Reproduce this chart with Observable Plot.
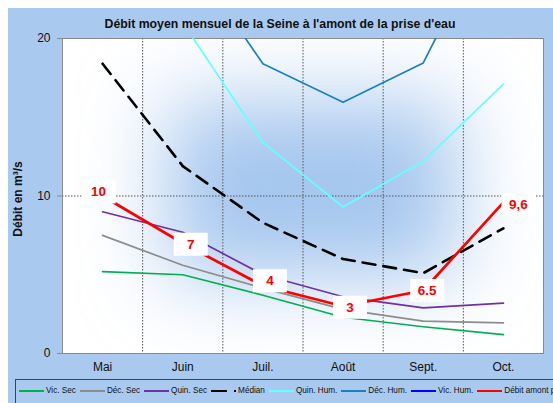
<!DOCTYPE html>
<html><head><meta charset="utf-8">
<script src="https://cdn.jsdelivr.net/npm/d3@7"></script>
<script src="https://cdn.jsdelivr.net/npm/@observablehq/plot@0.6"></script>
<style>
body{margin:0;background:#fff;}
#wrap{position:relative;width:553px;height:403px;background:#fff;overflow:hidden;font-family:"Liberation Sans",Arial,sans-serif;}
#bg{position:absolute;left:8px;top:8px;right:0;bottom:0;background:#a9c9ef;}
#title{position:absolute;left:0;width:560px;top:17px;text-align:center;font-weight:bold;font-size:12.3px;color:#111;line-height:14px;}
#ylab{position:absolute;left:18px;top:199px;transform:translate(-50%,-50%) rotate(-90deg);font-weight:bold;font-size:12px;white-space:nowrap;color:#111;}
#chart{position:absolute;left:0;top:0;}
#legend{position:absolute;left:15px;top:379px;width:560px;height:30px;border:1px solid #444;box-sizing:border-box;display:flex;align-items:flex-start;padding:6px 0 0 3px;font-size:8.2px;color:#111;}
.item{display:flex;align-items:center;margin-right:4px;white-space:nowrap;}
.item svg{margin-right:2px;}
</style></head>
<body>
<div id="wrap">
  <div id="bg"></div>
  <div id="chart"></div>
  <div id="title">Débit moyen mensuel de la Seine à l'amont de la prise d'eau</div>
  <div id="ylab">Débit en m³/s</div>
  <div id="legend"></div>
</div>
<script>
// ---- data ----
const months = ["Mai", "Juin", "Juil.", "Août", "Sept.", "Oct."];
const yTicks = [0, 10, 20];
const vicSec  = [5.2, 5.0, 3.7, 2.3, 1.7, 1.2];
const decSec  = [7.5, 5.6, 4.15, 2.8, 2.05, 1.95];
const quinSec = [9.0, 7.7, 5.0, 3.6, 2.9, 3.2];
const median  = [18.4, 11.9, 8.3, 6.0, 5.1, 7.95];
const quinHum = [26, 21, 13.4, 9.3, 12.2, 17.1];
const decHum  = [32, 25.8, 18.4, 15.95, 18.45, 28.5];
const vicHum  = [45, 38, 30, 26, 29, 40];
const debit   = [10, 7, 4.3, 3, 4, 9.6];
const debitLabels = ["10", "7", "4", "3", "6.5", "9,6"];

const seriesNames  = ["Vic. Sec", "Déc. Sec", "Quin. Sec", "Médian", "Quin. Hum.", "Déc. Hum.", "Vic. Hum.", "Débit amont prise d'eau"];
const seriesColors = ["#00b050", "#8c8c8c", "#7030a0", "#000000", "#66ffff", "#1a80c4", "#0000ff", "#ff0000"];
const seriesValues = [vicSec, decSec, quinSec, median, quinHum, decHum, vicHum, debit];

// styling: pixel nudges of each data label box (as placed in the original)
const labelNudge = [[-4, -4], [8, 1], [7, -5], [7, 1], [4, 0], [15, 2]];

// ---- chart ----
const n = months.length;
const idx = d3.range(n);
const X = (d, i) => i;
const Y = d => d;

// plot-area background: white with a soft blue glow in the middle
const backgroundMark = (index, scales, values, dim) => {
  const l = dim.marginLeft, t = dim.marginTop;
  const w = dim.width - dim.marginLeft - dim.marginRight;
  const h = dim.height - dim.marginTop - dim.marginBottom;
  const g = d3.create("svg:g");
  const defs = g.append("defs");
  defs.append("clipPath").attr("id", "plotClip")
    .append("rect").attr("x", l).attr("y", t).attr("width", w).attr("height", h);
  defs.append("filter").attr("id", "soft")
    .attr("x", "-100%").attr("y", "-100%").attr("width", "300%").attr("height", "300%")
    .append("feGaussianBlur").attr("stdDeviation", 42);
  g.append("rect").attr("x", l).attr("y", t).attr("width", w).attr("height", h).attr("fill", "#fff");
  g.append("g").attr("clip-path", "url(#plotClip)")
    .append("rect").attr("x", l + w * 0.22).attr("y", t + h * 0.2)
    .attr("width", w * 0.6).attr("height", h * 0.56)
    .attr("fill", "#a4c6ee").attr("filter", "url(#soft)");
  return g.node();
};
const rectSym = {draw(ctx) { ctx.rect(-17, -11.5, 34, 23); }};

const lineStyle = (k) => {
  const s = {x: X, y: Y, stroke: seriesColors[k], strokeWidth: 1.7, clip: true};
  if (seriesNames[k] === "Médian") { s.strokeWidth = 2.6; s.strokeDasharray = "13,8"; }
  if (k === seriesNames.length - 1) s.strokeWidth = 2.7;
  return s;
};

const labelMarks = debit.flatMap((v, i) => {
  const [dx, dy] = labelNudge[i];
  const one = [v];
  const xi = () => i;
  return [
    Plot.dot(one, {x: xi, y: Y, symbol: rectSym, fill: "white", stroke: null, dx, dy}),
    Plot.text(one, {x: xi, y: Y, text: () => debitLabels[i], fill: "#ff0000", fontWeight: "bold", fontSize: 13.5, dx, dy})
  ];
});

const chart = Plot.plot({
  width: 553, height: 378,
  marginLeft: 62, marginRight: 10, marginTop: 38, marginBottom: 25,
  style: {background: "transparent", fontFamily: "Liberation Sans, Arial, sans-serif", fontSize: "12px", color: "#111", overflow: "visible"},
  x: {type: "linear", domain: [-0.5, n - 0.5]},
  y: {domain: [0, 20]},
  marks: [
    backgroundMark,
    Plot.ruleX(d3.range(1, n).map(i => i - 0.5), {stroke: "#555", strokeDasharray: "1.5,1.5", strokeWidth: 1}),
    Plot.ruleY([10], {stroke: "#555", strokeDasharray: "1.5,1.5", strokeWidth: 1}),
    Plot.frame({stroke: "#8a8a8a"}),
    Plot.axisY({ticks: yTicks, tickSize: 5, tickPadding: 7, label: null, stroke: "#8a8a8a", fill: "#111"}),
    Plot.axisX({ticks: idx, tickFormat: i => months[i], tickSize: 0, tickPadding: 9, label: null, fill: "#111"}),
    ...seriesValues.map((vals, k) => Plot.line(vals, lineStyle(k))),
    ...labelMarks
  ]
});
document.getElementById("chart").appendChild(chart);

// ---- legend ----
const legend = document.getElementById("legend");
seriesNames.forEach((name, k) => {
  const item = document.createElement("div");
  item.className = "item";
  const dash = name === "Médian" ? ' stroke-dasharray="16,7,3,10"' : '';
  item.innerHTML = `<svg width="25" height="6"><line x1="0" y1="3" x2="25" y2="3" stroke="${seriesColors[k]}" stroke-width="2"${dash}/></svg><span>${name}</span>`;
  legend.appendChild(item);
});
</script>
</body></html>
